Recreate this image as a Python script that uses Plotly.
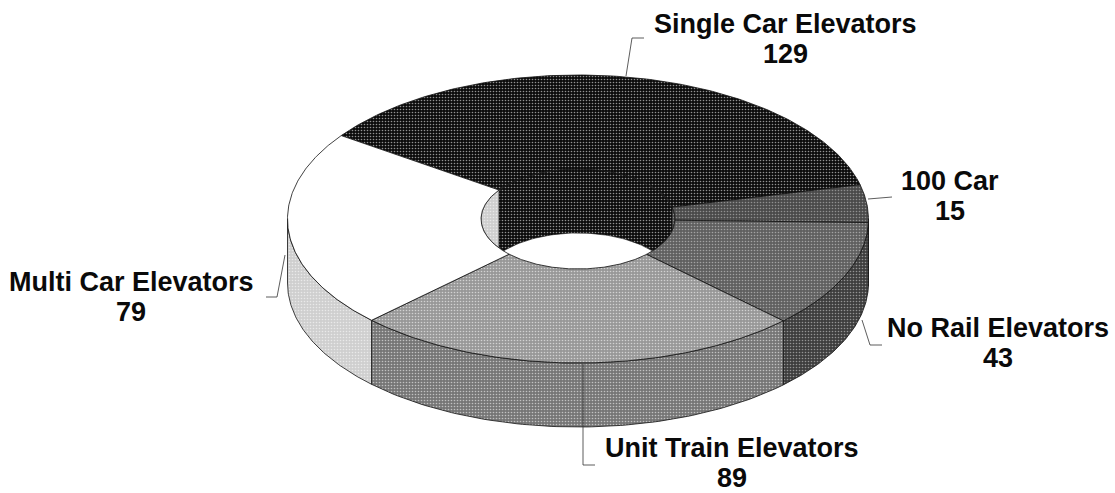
import numpy as np
import plotly.graph_objects as go

# Data
categories = ["Single Car Elevators", "100 Car", "No Rail Elevators", "Unit Train Elevators", "Multi Car Elevators"]
values = [129, 15, 43, 89, 79]

# Styles (top colour, wall colour, pattern dot colour)
top_colors = ["#0c0c0c", "#4a4a4a", "#606060", "#989898", "#ffffff"]
wall_colors = ["#0c0c0c", "#4a4a4a", "#3e3e3e", "#767676", "#cfcfcf"]
dot_colors = ["#ffffff", "#c8c8c8", "#d8d8d8", "#ffffff", "#ffffff"]
label_centers = [(785, 39), (950, 196), (998, 343), (732, 463), (131, 297)]
leaders = [
    [(644, 38), (632, 38), (626, 76)],
    [(868, 199), (892, 197)],
    [(862, 320), (870, 345), (882, 345)],
    [(583, 364), (583, 465), (595, 465)],
    [(285, 255), (277, 297), (266, 297)],
]

# Pixel-space geometry of the tilted ring
CX, CY, A, B = 578.0, 219.0, 290.5, 144.0
HA, HB = 97.0, 50.0
DEPTH = 64.0
START = -54.6


def pattern(dot, bg):
    return dict(shape=".", size=3, solidity=0.22, fgcolor=dot, bgcolor=bg, fgopacity=0.55, fillmode="replace")


def outer(t):
    return CX + A * np.sin(t), CY - B * np.cos(t)


def inner(t):
    return CX + HA * np.sin(t), CY - HB * np.cos(t)


total = sum(values)
edges = np.radians(START + np.concatenate([[0], np.cumsum(values)]) * 360.0 / total)
fig = go.Figure()


def add_poly(x, y, fill, dot, lw=1.0):
    fig.add_trace(go.Scatter(
        x=list(x), y=list(y), mode="lines", fill="toself", fillcolor=fill,
        fillpattern=pattern(dot, fill) if fill != "#ffffff" else None,
        line=dict(color="#111111", width=lw), hoverinfo="skip", showlegend=False,
    ))


for i, name in enumerate(categories):
    t0, t1 = edges[i], edges[i + 1]

    # Visible inner wall: back half of the hole
    a = max(t0, -np.pi / 2)
    b = min(t1, np.pi / 2)
    # multi-car slice wraps past 270 degrees
    if i == len(categories) - 1:
        a, b = -np.pi / 2, edges[0]
    if b > a:
        t = np.linspace(a, b, 60)
        x, y = inner(t)
        low = np.minimum(y + DEPTH, CY + HB * np.cos(t))
        add_poly(np.r_[x, x[::-1], x[0]], np.r_[y, low[::-1], y[0]], wall_colors[i], dot_colors[i], 0.6)

    # Visible outer wall: front half of the ring
    a = max(t0, np.pi / 2)
    b = min(t1, 3 * np.pi / 2)
    if b > a:
        t = np.linspace(a, b, 80)
        x, y = outer(t)
        add_poly(np.r_[x, x[::-1], x[0]], np.r_[y, (y + DEPTH)[::-1], y[0]], wall_colors[i], dot_colors[i], 0.8)

    # Top face
    t = np.linspace(t0, t1, 160)
    ox, oy = outer(t)
    ix, iy = inner(t[::-1])
    add_poly(np.r_[ox, ix, ox[0]], np.r_[oy, iy, oy[0]], top_colors[i], dot_colors[i], 0.8)

    # Leader line and label
    lx, ly = zip(*leaders[i])
    fig.add_trace(go.Scatter(x=lx, y=ly, mode="lines", line=dict(color="#333333", width=0.8),
                             hoverinfo="skip", showlegend=False))
    for text, dy in ((name, -15.5), (str(values[i]), 15)):
        fig.add_annotation(x=label_centers[i][0], y=label_centers[i][1] + dy, showarrow=False,
                           text=text, align="center",
                           font=dict(family="Liberation Sans", size=27, color="#0a0a0a", weight="bold"))

fig.update_layout(
    width=1115, height=493, margin=dict(l=0, r=0, t=0, b=0),
    paper_bgcolor="white", plot_bgcolor="white", showlegend=False,
    xaxis=dict(range=[0, 1115], visible=False, fixedrange=True),
    yaxis=dict(range=[493, 0], visible=False, fixedrange=True),
)
fig.write_html("out.html", config={"displayModeBar": False},
               post_script="document.body.style.margin='0';document.documentElement.style.overflow='hidden';")
